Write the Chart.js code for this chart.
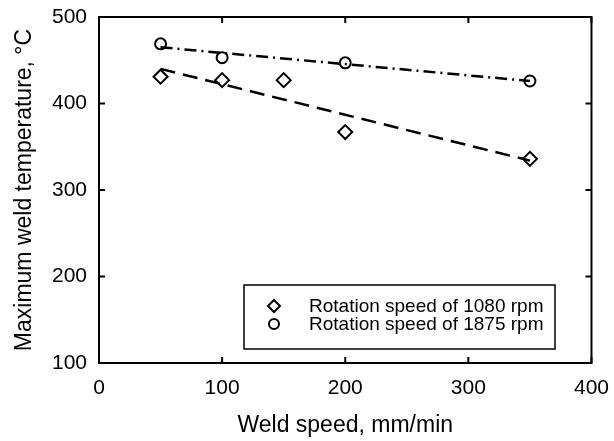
<!DOCTYPE html>
<html lang="en">
<head>
  <meta charset="UTF-8">
  <title>Maximum weld temperature vs weld speed</title>
  <script src="https://cdn.jsdelivr.net/npm/chart.js"></script>
  <style>
    html, body {
      margin: 0;
      padding: 0;
      background: #fff;
    }

    .chart-container {
      position: relative;
      width: 614px;
      height: 441px;
    }
  </style>
</head>
<body>

  <div class="chart-container">
    <canvas id="weldTemp"></canvas>
  </div>

  <script>
    // measured points
    const speed1080 = [50, 100, 150, 200, 350];
    const temp1080 = [431, 427, 427, 367, 336];
    const speed1875 = [50, 100, 200, 350];
    const temp1875 = [469, 453, 447, 426];

    // fitted trend lines (end points)
    const trendSpeed = [50, 350];
    const trend1080 = [440, 334];
    const trend1875 = [465, 426];

    const xTicks = [0, 100, 200, 300, 400];
    const yTicks = [100, 200, 300, 400, 500];

    const legendLabels = ['Rotation speed of 1080 rpm', 'Rotation speed of 1875 rpm'];

    const pts = (xs, ys) => xs.map((x, i) => ({ x: x, y: ys[i] }));

    const FONT = "'Liberation Sans', Arial, sans-serif";

    // box around the plot and ticks pointing inward on all four sides
    const frameTicks = {
      id: 'frameTicks',
      afterDraw(chart) {
        const ctx = chart.ctx;
        const a = chart.chartArea;
        const xs = chart.scales.x;
        const ys = chart.scales.y;
        const len = 6;
        ctx.save();
        ctx.strokeStyle = '#000';
        ctx.lineWidth = 2;
        ctx.strokeRect(a.left, a.top, a.right - a.left, a.bottom - a.top);
        ctx.beginPath();
        xTicks.forEach(v => {
          const px = xs.getPixelForValue(v);
          ctx.moveTo(px, a.bottom); ctx.lineTo(px, a.bottom - len);
          ctx.moveTo(px, a.top); ctx.lineTo(px, a.top + len);
        });
        yTicks.forEach(v => {
          const py = ys.getPixelForValue(v);
          ctx.moveTo(a.left, py); ctx.lineTo(a.left + len, py);
          ctx.moveTo(a.right, py); ctx.lineTo(a.right - len, py);
        });
        ctx.stroke();

        // legend box, bottom right of the plot
        const bx = a.left + 145, by = a.bottom - 78, bw = 311, bh = 64;
        ctx.fillStyle = '#fff';
        ctx.fillRect(bx, by, bw, bh);
        ctx.lineWidth = 1.5;
        ctx.strokeRect(bx, by, bw, bh);
        const styles = ['rectRot', 'circle'];
        const radii = [6, 5];
        ctx.font = '19px ' + FONT;
        ctx.textBaseline = 'middle';
        ctx.textAlign = 'left';
        legendLabels.forEach((lab, i) => {
          const cy = by + 21 + i * 18;
          ctx.strokeStyle = '#000';
          ctx.fillStyle = 'rgba(0,0,0,0)';
          ctx.lineWidth = 2;
          Chart.helpers.drawPoint(ctx, { pointStyle: styles[i], radius: radii[i], borderWidth: 2 }, bx + 30, cy);
          ctx.fillStyle = '#000';
          ctx.fillText(lab, bx + 65, cy + 1);
        });
        ctx.restore();
      }
    };

    new Chart(document.getElementById('weldTemp'), {
      type: 'scatter',
      data: {
        datasets: [
          {
            label: 'Fit 1080 rpm',
            data: pts(trendSpeed, trend1080),
            showLine: true,
            borderColor: '#000',
            borderWidth: 2.5,
            borderDash: [15, 8],
            pointRadius: 0
          },
          {
            label: 'Fit 1875 rpm',
            data: pts(trendSpeed, trend1875),
            showLine: true,
            borderColor: '#000',
            borderWidth: 2.5,
            borderDash: [12, 5, 2, 5],
            pointRadius: 0
          },
          {
            label: legendLabels[0],
            data: pts(speed1080, temp1080),
            pointStyle: 'rectRot',
            pointRadius: 7,
            pointBorderWidth: 2,
            pointBorderColor: '#000',
            pointBackgroundColor: 'rgba(0,0,0,0)'
          },
          {
            label: legendLabels[1],
            data: pts(speed1875, temp1875),
            pointStyle: 'circle',
            pointRadius: 5.5,
            pointBorderWidth: 2,
            pointBorderColor: '#000',
            pointBackgroundColor: 'rgba(0,0,0,0)'
          }
        ]
      },
      options: {
        responsive: true,
        maintainAspectRatio: false,
        animation: false,
        layout: { padding: { left: 0, top: 17, right: 20, bottom: 0 } },
        plugins: {
          legend: { display: false },
          tooltip: { enabled: false }
        },
        scales: {
          x: {
            type: 'linear',
            min: 0,
            max: 400,
            afterFit: s => { s.height = 78; },
            grid: { display: false },
            border: { display: false },
            ticks: {
              stepSize: 100,
              padding: 5,
              color: '#000',
              font: { family: FONT, size: 21 }
            },
            title: {
              display: true,
              text: 'Weld speed, mm/min',
              color: '#000',
              font: { family: FONT, size: 23 },
              padding: { top: 4, bottom: 2 }
            }
          },
          y: {
            min: 100,
            max: 500,
            afterFit: s => { s.width = 99; },
            grid: { display: false },
            border: { display: false },
            ticks: {
              stepSize: 100,
              padding: 4,
              color: '#000',
              font: { family: FONT, size: 21 }
            },
            title: {
              display: true,
              text: 'Maximum weld temperature, °C',
              color: '#000',
              font: { family: FONT, size: 23 },
              padding: { top: 11, bottom: 4 }
            }
          }
        }
      },
      plugins: [frameTicks]
    });
  </script>
</body>
</html>
